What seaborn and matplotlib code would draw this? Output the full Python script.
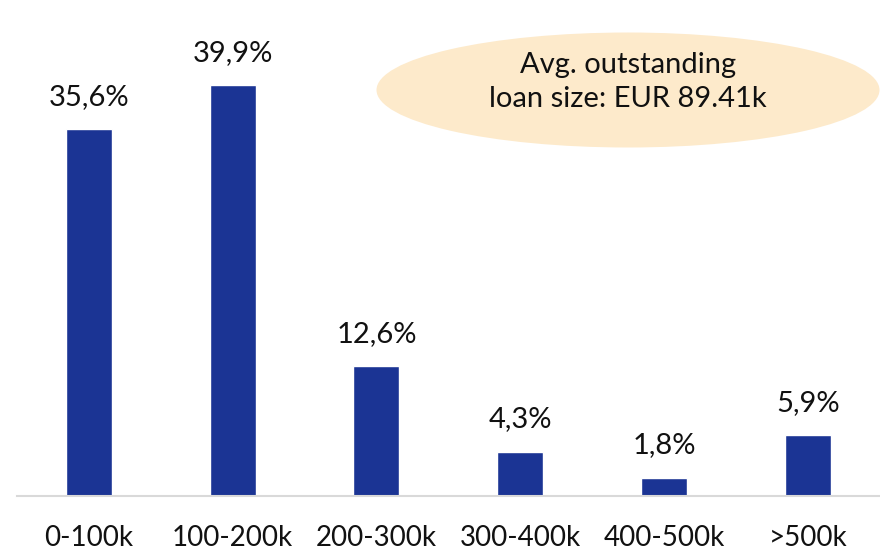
import matplotlib
matplotlib.use("Agg")
import matplotlib.pyplot as plt
import seaborn as sns
import pandas as pd
from matplotlib.patches import Ellipse

categories = ["0-100k", "100-200k", "200-300k", "300-400k", "400-500k", ">500k"]
values = [35.6, 39.9, 12.6, 4.3, 1.8, 5.9]
labels = ["35,6%", "39,9%", "12,6%", "4,3%", "1,8%", "5,9%"]
note = "Avg. outstanding\nloan size: EUR 89.41k"

sns.set_theme(style="white")
plt.rcParams['font.family'] = ['Lato', 'DejaVu Sans']

df = pd.DataFrame({"cat": categories, "val": values})

fig = plt.figure(figsize=(8.8, 5.53), dpi=100)
ax = fig.add_axes([0.019, 0.103, 0.981, 0.745])
sns.barplot(data=df, x="cat", y="val", color="#1B3494", saturation=1, width=0.32, ax=ax)
ax.set_xlim(-0.5, 5.5)
ax.set_ylim(0, 40)
for i, (v, t) in enumerate(zip(values, labels)):
    ax.annotate(t, (i, v), xytext=(0, 14), textcoords="offset points",
                ha="center", va="bottom", fontsize=21, color="#111111",
                annotation_clip=False)
for s in ["top", "right", "left"]:
    ax.spines[s].set_visible(False)
ax.spines["bottom"].set_color("#D9D9D9")
ax.spines["bottom"].set_linewidth(1.5)
ax.set_yticks([])
ax.set_xlabel("")
ax.set_ylabel("")
ax.tick_params(axis="x", length=0, pad=21, labelsize=20, labelcolor="#111111")

ell = Ellipse((628 / 880, 1 - 90 / 553), 503 / 880, 115 / 553, transform=fig.transFigure,
              facecolor="#FDEACB", edgecolor="none", zorder=5)
fig.patches.append(ell)
fig.text(628 / 880, 1 - 82 / 553, note, ha="center", va="center", fontsize=21,
         color="#111111", linespacing=1.42, zorder=6)

fig.savefig("out.png", dpi=100)
